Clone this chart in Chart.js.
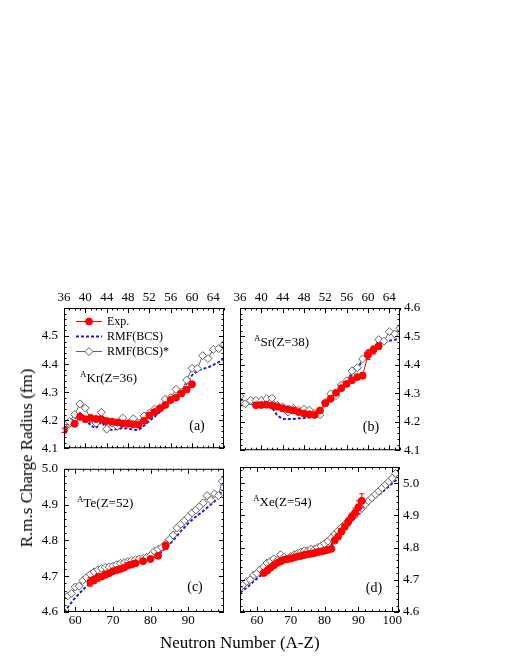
<!DOCTYPE html>
<html>
<head>
<meta charset="utf-8">
<script src="https://cdn.jsdelivr.net/npm/chart.js@4.4.1/dist/chart.umd.min.js"></script>
<style>
  html, body { margin: 0; padding: 0; background: #fff; }
  #page { position: relative; width: 510px; height: 660px; overflow: hidden;
          font-family: 'Liberation Serif', 'Times New Roman', serif; color: #000; }
  canvas { position: absolute; }
  .note { position: absolute; font-size: 13px; line-height: 16px; white-space: nowrap; }
  .note .sup { font-size: 9px; position: relative; top: -5px; }
  .tag { position: absolute; font-size: 14px; line-height: 16px; transform: translateX(-50%); }
  #ytitle { position: absolute; left: 27px; top: 458px; font-size: 17px; line-height: 20px; white-space: nowrap;
            transform: translate(-50%, -50%) rotate(-90deg); }
  #xtitle { position: absolute; left: 160px; top: 633px; font-size: 17px; line-height: 20px; white-space: nowrap; }
</style>
</head>
<body>
<div id="page">
  <canvas id="kr" width="234" height="192" style="left:0px;top:270px"></canvas>
  <canvas id="sr" width="214" height="192" style="left:226px;top:270px"></canvas>
  <canvas id="te" width="234" height="180" style="left:0px;top:455px"></canvas>
  <canvas id="xe" width="214" height="180" style="left:226px;top:455px"></canvas>

  <div class="note" style="left:80px;top:370px"><span class="sup">A</span>Kr(Z=36)</div>
  <div class="note" style="left:254px;top:334px"><span class="sup">A</span>Sr(Z=38)</div>
  <div class="note" style="left:77px;top:495px"><span class="sup">A</span>Te(Z=52)</div>
  <div class="note" style="left:253px;top:494px"><span class="sup">A</span>Xe(Z=54)</div>

  <div class="tag" style="left:197px;top:418px">(a)</div>
  <div class="tag" style="left:371px;top:419px">(b)</div>
  <div class="tag" style="left:195px;top:579px">(c)</div>
  <div class="tag" style="left:374px;top:580px">(d)</div>

  <div id="ytitle">R.m.s Charge Radius (fm)</div>
  <div id="xtitle">Neutron Number (A-Z)</div>
</div>

<script>
/////////////////////
//      Data       //
/////////////////////
// Kr (Z=36)
const KR_EXP_N = [36, 38, 39, 40, 41, 42, 43, 44, 45, 46, 47, 48, 49, 50, 51, 52, 53, 54, 55, 56, 57, 58, 59, 60];
const KR_EXP_R = [4.164, 4.187, 4.212, 4.203, 4.208, 4.204, 4.203, 4.197, 4.195, 4.192, 4.188, 4.188,
                  4.185, 4.184, 4.198, 4.217, 4.229, 4.242, 4.254, 4.272, 4.280, 4.295, 4.309, 4.328];
const KR_EXP_ERR = [0.008, 0.004, 0.004, 0.003, 0.003, 0.003, 0.003, 0.003, 0.003, 0.003, 0.003, 0.003,
                    0.003, 0.003, 0.003, 0.003, 0.003, 0.003, 0.004, 0.005, 0.005, 0.006, 0.008, 0.010];
const KR_CALC_N = [36, 37, 38, 39, 40, 41, 42, 43, 44, 45, 46, 47, 48, 49, 50, 51,
                   52, 53, 54, 55, 56, 57, 58, 59, 60, 61, 62, 63, 64, 65, 66];
const KR_BCS_R = [4.170, 4.190, 4.205, 4.225, 4.210, 4.180, 4.172, 4.195, 4.170, 4.165, 4.168, 4.172, 4.170, 4.166, 4.165, 4.180,
                  4.197, 4.212, 4.230, 4.248, 4.265, 4.285, 4.302, 4.330, 4.360, 4.377, 4.383, 4.388, 4.397, 4.407, 4.420];
const KR_STAR_R = [4.175, 4.195, 4.220, 4.258, 4.243, 4.205, 4.190, 4.228, 4.168, 4.190, 4.178, 4.208, 4.188, 4.205, 4.190, 4.215,
                   4.225, 4.240, 4.245, 4.275, 4.280, 4.310, 4.300, 4.343, 4.385, 4.384, 4.430, 4.420, 4.452, 4.455, 4.470];

// Sr (Z=38)
const SR_EXP_N = [39, 40, 41, 42, 43, 44, 45, 46, 47, 48, 49, 50, 51, 52, 53, 54, 55, 56, 57, 58, 59, 60, 61, 62];
const SR_EXP_R = [4.258, 4.259, 4.260, 4.257, 4.253, 4.247, 4.244, 4.240, 4.234, 4.229, 4.226, 4.224,
                  4.240, 4.265, 4.281, 4.302, 4.318, 4.333, 4.346, 4.357, 4.362, 4.435, 4.452, 4.466];
const SR_EXP_ERR = [0.003, 0.003, 0.003, 0.003, 0.003, 0.003, 0.003, 0.003, 0.003, 0.003, 0.003, 0.003,
                    0.003, 0.003, 0.003, 0.004, 0.004, 0.005, 0.005, 0.006, 0.010, 0.016, 0.014, 0.011];
const SR_CALC_N = [36, 37, 38, 39, 40, 41, 42, 43, 44, 45, 46, 47, 48, 49, 50, 51,
                   52, 53, 54, 55, 56, 57, 58, 59, 60, 61, 62, 63, 64, 65, 66];
const SR_BCS_R = [4.280, 4.270, 4.262, 4.260, 4.260, 4.260, 4.250, 4.222, 4.210, 4.210, 4.210, 4.212, 4.213, 4.215, 4.218, 4.235,
                  4.260, 4.280, 4.300, 4.320, 4.345, 4.365, 4.390, 4.415, 4.440, 4.460, 4.472, 4.480, 4.485, 4.488, 4.492];
const SR_STAR_R = [4.290, 4.263, 4.275, 4.275, 4.275, 4.281, 4.283, 4.258, 4.252, 4.234, 4.247, 4.241, 4.244, 4.241, 4.229, 4.225,
                   4.269, 4.298, 4.292, 4.329, 4.344, 4.379, 4.390, 4.421, 4.442, 4.454, 4.489, 4.483, 4.517, 4.509, 4.529];

// Te (Z=52)
const TE_EXP_N = [64, 65, 66, 67, 68, 69, 70, 71, 72, 73, 74, 75, 76, 78, 80, 82, 84];
const TE_EXP_R = [4.684, 4.689, 4.696, 4.699, 4.704, 4.708, 4.714, 4.717, 4.720, 4.724, 4.730, 4.733, 4.736,
                  4.742, 4.748, 4.757, 4.785];
const TE_EXP_ERR = [0.012, 0.010, 0.010, 0.008, 0.008, 0.005, 0.004, 0.003, 0.003, 0.003, 0.003, 0.003, 0.003,
                    0.003, 0.003, 0.004, 0.010];
const TE_BCS_N = [57, 58, 60, 62, 64, 66, 68, 70, 72, 74, 76, 78, 80, 82, 84, 86, 88, 90, 92, 94, 96, 98, 99];
const TE_BCS_R = [4.600, 4.613, 4.640, 4.662, 4.682, 4.698, 4.710, 4.720, 4.728, 4.735, 4.742, 4.747, 4.752, 4.760,
                  4.778, 4.800, 4.825, 4.848, 4.866, 4.882, 4.900, 4.918, 4.942];
const TE_STAR_N = [58, 59, 60, 61, 62, 63, 64, 65, 66, 67, 68, 69, 70, 71, 72, 73, 74, 75, 76, 77, 78,
                   79, 80, 81, 82, 83, 84, 85, 86, 87, 88, 89, 90, 91, 92, 93, 94, 95, 96, 97, 98, 99];
const TE_STAR_R = [4.645, 4.652, 4.670, 4.672, 4.688, 4.696, 4.705, 4.712, 4.718, 4.722, 4.725, 4.726, 4.728, 4.732,
                   4.736, 4.738, 4.741, 4.744, 4.746, 4.748, 4.750, 4.753, 4.758, 4.770, 4.775, 4.780, 4.790, 4.803,
                   4.815, 4.835, 4.845, 4.855, 4.865, 4.877, 4.885, 4.895, 4.905, 4.925, 4.912, 4.930, 4.925, 4.965];

// Xe (Z=54)
const XE_EXP_N = [62, 63, 64, 65, 66, 67, 68, 69, 70, 71, 72, 73, 74, 75, 76,
                  77, 78, 79, 80, 81, 82, 83, 84, 85, 86, 87, 88, 89, 90, 91];
const XE_EXP_R = [4.721, 4.728, 4.737, 4.745, 4.752, 4.757, 4.762, 4.764, 4.766, 4.769, 4.772, 4.774, 4.777, 4.779, 4.781,
                  4.783, 4.786, 4.788, 4.790, 4.793, 4.796, 4.822, 4.834, 4.850, 4.865, 4.880, 4.895, 4.908, 4.925, 4.945];
const XE_EXP_ERR = [0.008, 0.006, 0.006, 0.004, 0.004, 0.003, 0.003, 0.003, 0.003, 0.003, 0.003, 0.003, 0.003, 0.003, 0.003,
                    0.003, 0.003, 0.003, 0.003, 0.003, 0.003, 0.005, 0.008, 0.010, 0.010, 0.012, 0.012, 0.015, 0.020, 0.022];
const XE_BCS_N = [55, 57, 59, 61, 63, 65, 67, 69, 71, 73, 75, 77, 79, 81, 83, 85, 87, 89, 91, 93, 95, 97, 99, 101, 102];
const XE_BCS_R = [4.660, 4.675, 4.695, 4.712, 4.730, 4.747, 4.758, 4.762, 4.768, 4.774, 4.779, 4.784, 4.789, 4.797,
                  4.820, 4.850, 4.875, 4.897, 4.918, 4.938, 4.955, 4.972, 4.990, 5.008, 5.017];
const XE_STAR_N = [55, 56, 57, 58, 59, 60, 61, 62, 63, 64, 65, 66, 67, 68, 69, 70, 71, 72, 73, 74, 75, 76, 77, 78,
                   79, 80, 81, 82, 83, 84, 85, 86, 87, 88, 89, 90, 91, 92, 93, 94, 95, 96, 97, 98, 99, 100, 101];
const XE_STAR_R = [4.675, 4.685, 4.695, 4.700, 4.715, 4.720, 4.732, 4.740, 4.752, 4.758, 4.765, 4.760, 4.778, 4.770,
                   4.765, 4.772, 4.778, 4.782, 4.786, 4.790, 4.790, 4.795, 4.795, 4.800, 4.805, 4.812, 4.820, 4.830,
                   4.842, 4.852, 4.862, 4.872, 4.882, 4.892, 4.902, 4.912, 4.922, 4.934, 4.945, 4.955, 4.965, 4.975,
                   4.985, 4.995, 5.005, 5.015, 5.030];

// Tick labels
const TOP_N_TICKS = [36, 40, 44, 48, 52, 56, 60, 64];
const TE_N_TICKS = [60, 70, 80, 90];
const XE_N_TICKS = [60, 70, 80, 90, 100];
const KR_R_TICKS = [4.1, 4.2, 4.3, 4.4, 4.5];
const SR_R_TICKS = [4.1, 4.2, 4.3, 4.4, 4.5, 4.6];
const TE_R_TICKS = [4.6, 4.7, 4.8, 4.9, 5.0];
const XE_R_TICKS = [4.6, 4.7, 4.8, 4.9, 5.0];


/////////////////////
//     Plugins     //
/////////////////////
// Box frame with inward major/minor ticks on all four sides
const frameTicks = {
  id: 'frameTicks',
  afterDraw(chart, args, opts) {
    const { ctx, chartArea: a, scales: { x, y } } = chart;
    const MAJOR = 5;
    const MINOR = 2.5;
    ctx.save();
    ctx.strokeStyle = '#000';
    ctx.lineWidth = 1;
    ctx.strokeRect(a.left + 0.5, a.top + 0.5, a.right - a.left - 1, a.bottom - a.top - 1);
    ctx.beginPath();
    const xMark = (v, len) => {
      const px = Math.round(x.getPixelForValue(v)) + 0.5;
      ctx.moveTo(px, a.top); ctx.lineTo(px, a.top + len);
      ctx.moveTo(px, a.bottom); ctx.lineTo(px, a.bottom - len);
    };
    const yMark = (v, len) => {
      const py = Math.round(y.getPixelForValue(v)) + 0.5;
      ctx.moveTo(a.left, py); ctx.lineTo(a.left + len, py);
      ctx.moveTo(a.right, py); ctx.lineTo(a.right - len, py);
    };
    for (let k = Math.ceil(x.min / opts.xMinor - 1e-9); k * opts.xMinor <= x.max + 1e-9; k++) {
      xMark(k * opts.xMinor, MINOR);
    }
    for (let k = Math.ceil(y.min / opts.yMinor - 1e-9); k * opts.yMinor <= y.max + 1e-9; k++) {
      yMark(k * opts.yMinor, MINOR);
    }
    x.ticks.forEach(t => xMark(t.value, MAJOR));
    y.ticks.forEach(t => yMark(t.value, MAJOR));
    ctx.stroke();
    ctx.restore();
  }
};

// Vertical error bars for datasets that carry an `errors` array
const errorBars = {
  id: 'errorBars',
  afterDatasetsDraw(chart) {
    const { ctx, scales: { y } } = chart;
    ctx.save();
    chart.data.datasets.forEach((ds, i) => {
      if (!ds.errors) return;
      const meta = chart.getDatasetMeta(i);
      ctx.strokeStyle = ds.borderColor;
      ctx.lineWidth = 1;
      ctx.beginPath();
      meta.data.forEach((pt, j) => {
        const err = ds.errors[j];
        const top = y.getPixelForValue(ds.data[j].y + err);
        const bot = y.getPixelForValue(ds.data[j].y - err);
        ctx.moveTo(pt.x, top); ctx.lineTo(pt.x, bot);
        ctx.moveTo(pt.x - 2.5, top); ctx.lineTo(pt.x + 2.5, top);
        ctx.moveTo(pt.x - 2.5, bot); ctx.lineTo(pt.x + 2.5, bot);
      });
      ctx.stroke();
    });
    ctx.restore();
  }
};

// Small legend drawn inside the plot box
const insetLegend = {
  id: 'insetLegend',
  afterDraw(chart, args, opts) {
    if (!opts.show) return;
    const { ctx, chartArea: a } = chart;
    ctx.save();
    ctx.font = "12px 'Liberation Serif', 'Times New Roman', serif";
    ctx.textBaseline = 'middle';
    ctx.fillStyle = '#000';
    opts.order.forEach((di, row) => {
      const ds = chart.data.datasets[di];
      const yy = a.top + opts.top + row * opts.rowGap;
      const x0 = a.left + opts.left;
      const x1 = x0 + opts.lineLength;
      const xm = (x0 + x1) / 2;
      ctx.strokeStyle = ds.borderColor;
      ctx.lineWidth = ds.borderWidth;
      ctx.setLineDash(ds.borderDash || []);
      ctx.beginPath();
      ctx.moveTo(x0, yy);
      ctx.lineTo(x1, yy);
      ctx.stroke();
      ctx.setLineDash([]);
      if (ds.pointRadius > 0) {
        const r = ds.pointRadius;
        ctx.fillStyle = ds.pointBackgroundColor;
        ctx.strokeStyle = ds.pointBorderColor;
        ctx.lineWidth = ds.pointBorderWidth;
        ctx.beginPath();
        if (ds.pointStyle === 'rectRot') {
          ctx.moveTo(xm, yy - r); ctx.lineTo(xm + r, yy); ctx.lineTo(xm, yy + r); ctx.lineTo(xm - r, yy);
          ctx.closePath();
        } else {
          ctx.arc(xm, yy, r, 0, 2 * Math.PI);
        }
        ctx.fill();
        ctx.stroke();
      }
      ctx.fillStyle = '#000';
      ctx.fillText(ds.label, a.left + opts.textLeft, yy);
    });
    ctx.restore();
  }
};


////////////////////////////
//    Helper Functions    //
////////////////////////////
Chart.defaults.font.family = "'Liberation Serif', 'Times New Roman', serif";
Chart.defaults.font.size = 13;
Chart.defaults.color = '#000';

function toXY(ns, rs) {
  return ns.map((n, i) => ({ x: n, y: rs[i] }));
}

function buildDatasets(expN, expR, expErr, bcsN, bcsR, starN, starR) {
  return [
    {
      label: 'Exp.',
      data: toXY(expN, expR),
      errors: expErr,
      borderColor: '#ff0000',
      backgroundColor: '#ff0000',
      borderWidth: 1,
      pointStyle: 'circle',
      pointRadius: 3.5,
      pointBackgroundColor: '#ff0000',
      pointBorderColor: '#ff0000',
      pointBorderWidth: 1
    },
    {
      label: 'RMF(BCS)*',
      data: toXY(starN, starR),
      borderColor: '#606060',
      backgroundColor: '#ffffff',
      borderWidth: 1,
      pointStyle: 'rectRot',
      pointRadius: 4,
      pointBackgroundColor: '#ffffff',
      pointBorderColor: '#606060',
      pointBorderWidth: 1
    },
    {
      label: 'RMF(BCS)',
      data: toXY(bcsN, bcsR),
      borderColor: '#1c1cc8',
      borderWidth: 2,
      borderDash: [3, 2],
      pointRadius: 0
    }
  ];
}

function makePanel(id, p) {
  const fixedTicks = (values) => (scale) => {
    scale.ticks = values.map(v => ({ value: v }));
  };
  return new Chart(document.getElementById(id), {
    type: 'line',
    data: { datasets: p.datasets },
    options: {
      responsive: false,
      animation: false,
      layout: { padding: p.padding },
      elements: { line: { tension: 0 } },
      scales: {
        x: {
          type: 'linear',
          position: p.xPos,
          min: p.xMin,
          max: p.xMax,
          grid: { display: false, drawTicks: false },
          border: { display: false },
          afterBuildTicks: fixedTicks(p.xTicks),
          afterFit: (s) => { s.height = p.xSize; },
          ticks: { autoSkip: false, maxRotation: 0, padding: p.xPad, callback: (v) => String(v) }
        },
        y: {
          type: 'linear',
          position: p.yPos,
          min: p.yMin,
          max: p.yMax,
          grid: { display: false, drawTicks: false },
          border: { display: false },
          afterBuildTicks: fixedTicks(p.yTicks),
          afterFit: (s) => { s.width = p.ySize; },
          ticks: { autoSkip: false, padding: p.yPad, callback: (v) => v.toFixed(1) }
        }
      },
      plugins: {
        legend: { display: false },
        tooltip: { enabled: false },
        frameTicks: { xMinor: p.xMinor, yMinor: p.yMinor },
        insetLegend: { show: !!p.legend, order: [0, 2, 1], left: 12, lineLength: 26, textLeft: 43, top: 13.5, rowGap: 15 }
      }
    },
    plugins: [errorBars, frameTicks, insetLegend]
  });
}


///////////////////////
//    Main Script    //
///////////////////////
makePanel('kr', {
  datasets: buildDatasets(KR_EXP_N, KR_EXP_R, KR_EXP_ERR, KR_CALC_N, KR_BCS_R, KR_CALC_N, KR_STAR_R),
  padding: { top: 0, left: 0, right: 10, bottom: 10 },
  xPos: 'top', xMin: 36, xMax: 66, xTicks: TOP_N_TICKS, xSize: 38, xPad: 3, xMinor: 1,
  yPos: 'left', yMin: 4.1, yMax: 4.6, yTicks: KR_R_TICKS, ySize: 64, yPad: 6, yMinor: 0.02,
  legend: true
});

makePanel('sr', {
  datasets: buildDatasets(SR_EXP_N, SR_EXP_R, SR_EXP_ERR, SR_CALC_N, SR_BCS_R, SR_CALC_N, SR_STAR_R),
  padding: { top: 0, left: 14, right: 0, bottom: 10 },
  xPos: 'top', xMin: 36, xMax: 66, xTicks: TOP_N_TICKS, xSize: 38, xPad: 3, xMinor: 1,
  yPos: 'right', yMin: 4.1, yMax: 4.6, yTicks: SR_R_TICKS, ySize: 40, yPad: 4, yMinor: 0.02
});

makePanel('te', {
  datasets: buildDatasets(TE_EXP_N, TE_EXP_R, TE_EXP_ERR, TE_BCS_N, TE_BCS_R, TE_STAR_N, TE_STAR_R),
  padding: { top: 12, left: 0, right: 10, bottom: 0 },
  xPos: 'bottom', xMin: 57, xMax: 99.5, xTicks: TE_N_TICKS, xSize: 23, xPad: 1, xMinor: 2,
  yPos: 'left', yMin: 4.6, yMax: 5.0, yTicks: TE_R_TICKS, ySize: 64, yPad: 6, yMinor: 0.02
});

makePanel('xe', {
  datasets: buildDatasets(XE_EXP_N, XE_EXP_R, XE_EXP_ERR, XE_BCS_N, XE_BCS_R, XE_STAR_N, XE_STAR_R),
  padding: { top: 12, left: 14, right: 0, bottom: 0 },
  xPos: 'bottom', xMin: 55, xMax: 102, xTicks: XE_N_TICKS, xSize: 23, xPad: 1, xMinor: 2,
  yPos: 'right', yMin: 4.6, yMax: 5.05, yTicks: XE_R_TICKS, ySize: 41, yPad: 4, yMinor: 0.02
});
</script>
</body>
</html>
